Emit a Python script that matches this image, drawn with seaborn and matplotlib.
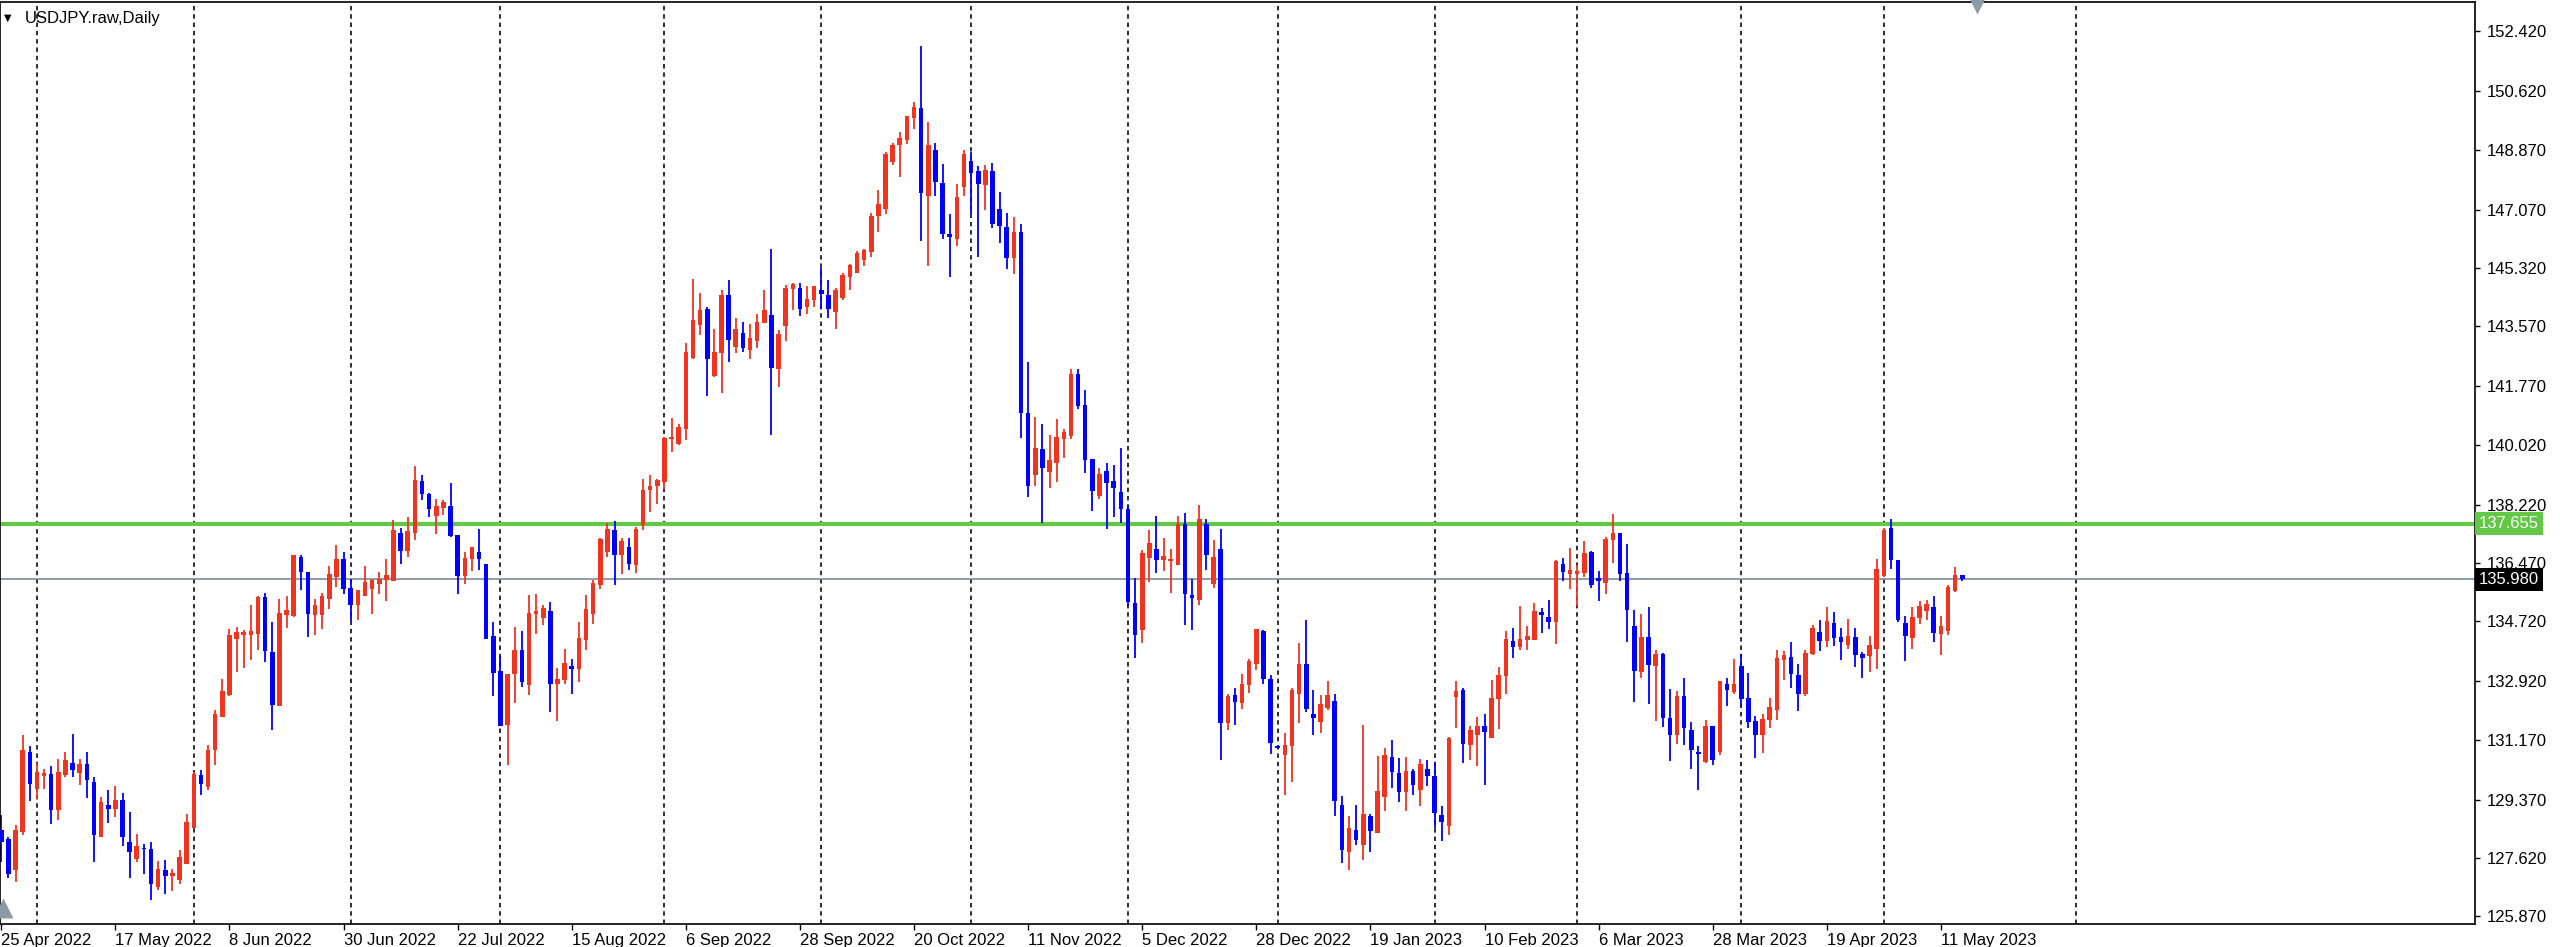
import numpy as np
import pandas as pd
import seaborn as sns
import matplotlib.pyplot as plt
from matplotlib.transforms import blended_transform_factory

# USDJPY daily candles, 25 Apr 2022 .. 16 May 2023
opens = [128.45, 128.20, 127.25, 128.40, 130.80, 129.70, 130.07, 130.15, 129.05, 130.10,
         130.47, 130.17, 130.45, 129.90, 128.25, 129.20, 129.10, 129.35, 128.10, 127.60,
         127.93, 127.90, 126.75, 127.25, 127.07, 126.95, 127.43, 128.53, 130.10, 129.75,
         130.87, 131.85, 132.50, 134.20, 134.30, 134.30, 134.35, 135.45, 133.80, 132.17,
         134.90, 134.87, 136.65, 136.20, 134.90, 134.90, 135.40, 136.05, 136.60, 135.73,
         135.22, 135.48, 135.70, 135.85, 135.97, 135.92, 137.37, 136.82, 137.37, 138.93,
         138.55, 137.88, 138.12, 138.18, 137.32, 136.07, 136.60, 136.80, 136.43, 134.28,
         133.22, 131.62, 133.15, 133.85, 132.80, 134.95, 134.83, 135.02, 132.85, 132.97,
         133.37, 133.28, 134.15, 134.95, 135.80, 136.80, 137.45, 136.70, 136.95, 136.40,
         137.60, 138.67, 138.77, 138.90, 140.19, 140.05, 140.50, 142.63, 143.62, 144.10,
         142.07, 142.77, 144.50, 142.95, 143.38, 142.87, 143.13, 143.67, 143.92, 142.28,
         143.57, 144.70, 144.72, 144.15, 144.37, 144.67, 144.50, 144.00, 144.43, 145.05,
         145.17, 145.57, 145.80, 146.87, 147.10, 148.50, 149.00, 149.17, 149.83, 150.13,
         147.48, 148.85, 147.88, 146.33, 146.20, 147.75, 148.52, 148.22, 147.80, 148.23,
         147.10, 146.56, 145.63, 146.40, 140.96, 139.10, 139.88, 139.20, 139.48, 140.18,
         140.28, 142.13, 141.21, 139.60, 138.48, 139.23, 138.93, 138.60, 138.08, 135.26,
         134.46, 136.61, 136.90, 136.55, 136.55, 136.40, 137.65, 135.50, 135.37, 137.65,
         135.85, 136.90, 131.67, 132.50, 132.27, 132.80, 133.43, 134.43, 133.00, 130.97,
         130.70, 130.97, 132.53, 133.43, 131.93, 131.69, 132.12, 132.32, 129.22, 127.80,
         128.45, 128.00, 128.89, 128.37, 129.44, 130.65, 130.17, 129.60, 130.22, 129.67,
         130.29, 130.07, 128.92, 128.59, 132.45, 132.65, 131.00, 131.32, 131.57, 131.22,
         132.39, 133.09, 134.14, 133.94, 134.17, 134.17, 134.99, 134.84, 134.69, 136.44,
         136.15, 136.15, 136.17, 136.79, 136.02, 135.87, 137.15, 137.37, 136.17, 134.57,
         133.20, 134.25, 133.39, 133.75, 131.82, 131.32, 132.49, 131.47, 130.80, 130.49,
         131.57, 130.80, 132.84, 132.59, 133.39, 132.42, 131.72, 131.32, 131.75, 132.07,
         133.57, 133.65, 133.12, 132.55, 133.75, 134.40, 134.12, 134.67, 134.25, 134.00,
         134.24, 133.75, 133.67, 133.89, 136.09, 137.52, 136.55, 134.67, 134.22, 134.82,
         135.02, 135.15, 134.35, 134.42, 135.62, 136.10]
highs = [128.90, 128.25, 128.60, 131.30, 130.97, 130.47, 130.30, 130.37, 130.60, 130.80,
         131.33, 130.60, 130.80, 130.05, 129.45, 129.67, 129.77, 129.57, 129.00, 128.33,
         128.05, 128.10, 127.53, 127.57, 127.30, 127.85, 128.93, 130.20, 130.25, 131.00,
         132.07, 133.00, 134.50, 134.55, 134.45, 135.20, 135.47, 135.57, 134.70, 135.40,
         135.47, 136.70, 136.70, 136.20, 135.40, 135.57, 136.37, 137.00, 136.80, 136.00,
         135.67, 136.37, 136.00, 136.20, 136.60, 137.75, 137.53, 137.85, 139.37, 139.10,
         138.57, 138.40, 138.35, 138.87, 137.32, 136.80, 136.95, 137.50, 136.45, 134.70,
         133.67, 133.15, 134.55, 134.43, 135.50, 135.55, 135.20, 135.30, 133.32, 133.90,
         133.58, 134.70, 135.50, 135.95, 137.23, 137.67, 137.72, 137.22, 137.23, 137.55,
         139.00, 139.10, 139.00, 140.25, 140.83, 140.65, 143.07, 144.99, 144.57, 144.15,
         143.50, 144.67, 144.95, 143.83, 143.70, 143.65, 143.93, 144.67, 145.90, 143.45,
         144.80, 144.88, 144.88, 144.77, 144.77, 145.32, 144.95, 144.73, 145.17, 145.45,
         145.82, 145.90, 146.97, 147.67, 148.80, 149.07, 149.40, 149.87, 150.30, 151.97,
         149.70, 149.07, 148.43, 146.93, 147.83, 148.85, 148.80, 148.37, 148.42, 148.46,
         147.60, 146.96, 146.86, 146.63, 142.50, 140.86, 140.63, 140.30, 140.78, 140.50,
         142.28, 142.30, 141.66, 139.60, 139.33, 139.46, 139.40, 139.93, 138.20, 136.01,
         136.86, 137.46, 137.87, 137.22, 136.90, 137.87, 137.97, 136.00, 138.20, 137.80,
         137.17, 137.50, 132.53, 132.73, 133.15, 133.60, 134.50, 134.45, 133.10, 131.00,
         131.38, 132.73, 134.08, 134.77, 132.67, 132.52, 132.92, 132.55, 129.49, 128.89,
         129.22, 131.62, 128.95, 130.67, 130.92, 131.15, 130.62, 130.65, 130.29, 130.59,
         130.55, 130.47, 129.17, 131.25, 132.92, 132.72, 131.57, 131.85, 131.95, 132.97,
         133.35, 134.42, 134.52, 135.17, 134.57, 135.27, 135.12, 135.37, 136.55, 136.62,
         136.92, 136.42, 137.14, 136.82, 136.22, 137.25, 137.94, 137.37, 137.05, 135.05,
         134.95, 135.15, 133.85, 133.77, 132.69, 132.62, 133.02, 131.69, 130.99, 131.77,
         131.57, 132.92, 133.02, 133.60, 133.75, 133.17, 131.89, 131.95, 132.42, 133.87,
         133.82, 134.09, 133.45, 133.87, 134.62, 134.75, 135.15, 134.99, 134.52, 134.79,
         134.52, 133.79, 134.27, 136.60, 137.52, 137.79, 136.57, 134.89, 135.15, 135.32,
         135.35, 135.47, 134.89, 135.82, 136.34, 136.12]
lows = [127.50, 127.03, 126.90, 128.30, 129.33, 129.40, 129.70, 128.63, 128.75, 130.05,
        130.05, 129.80, 129.43, 127.50, 128.25, 128.67, 128.85, 127.97, 127.03, 127.50,
        127.13, 126.37, 126.65, 126.55, 126.63, 126.85, 127.43, 128.53, 129.50, 129.65,
        130.40, 131.85, 132.47, 133.20, 133.33, 133.55, 133.87, 133.50, 131.47, 132.17,
        134.53, 134.85, 135.65, 134.25, 134.30, 134.50, 135.10, 135.75, 135.53, 134.73,
        134.77, 135.48, 134.95, 135.53, 135.32, 135.92, 136.45, 136.65, 137.15, 138.37,
        137.85, 137.35, 137.90, 137.25, 135.53, 135.85, 136.23, 136.27, 134.18, 132.47,
        131.57, 130.40, 132.27, 132.75, 132.50, 134.35, 134.60, 132.00, 131.73, 132.85,
        132.53, 132.90, 133.87, 134.63, 135.70, 136.65, 135.80, 136.13, 136.27, 136.17,
        137.45, 138.00, 138.25, 138.70, 139.80, 140.02, 140.17, 142.60, 143.30, 141.48,
        142.05, 141.58, 142.50, 142.77, 142.80, 142.60, 142.93, 143.67, 140.30, 141.75,
        143.13, 144.05, 143.88, 143.93, 144.15, 144.10, 143.83, 143.50, 144.35, 144.67,
        145.17, 145.37, 145.65, 146.40, 146.95, 148.40, 148.05, 149.03, 149.50, 146.13,
        145.38, 147.48, 146.18, 145.05, 145.97, 147.47, 146.93, 145.65, 147.05, 146.53,
        146.06, 145.30, 145.13, 140.23, 138.46, 138.78, 137.66, 138.73, 138.90, 139.63,
        140.18, 141.08, 139.16, 138.03, 138.40, 137.50, 137.86, 137.66, 135.18, 133.61,
        134.08, 135.91, 136.17, 136.22, 135.58, 136.40, 134.62, 134.47, 135.20, 136.27,
        135.73, 130.57, 131.45, 131.62, 132.10, 132.58, 133.27, 132.83, 130.75, 130.92,
        129.50, 129.90, 131.67, 132.00, 131.30, 131.37, 132.07, 128.87, 127.47, 127.27,
        128.02, 127.57, 127.79, 128.37, 129.02, 129.72, 129.29, 129.02, 129.50, 129.19,
        129.77, 128.52, 128.12, 128.32, 131.52, 130.47, 130.57, 130.37, 129.82, 131.22,
        131.49, 132.55, 133.62, 133.87, 133.87, 134.17, 134.37, 134.49, 134.05, 135.92,
        135.70, 135.19, 136.05, 135.72, 135.34, 135.54, 136.47, 135.92, 134.09, 132.29,
        133.02, 132.25, 131.72, 131.54, 130.52, 131.05, 131.00, 130.29, 129.67, 130.47,
        130.42, 130.72, 132.17, 132.55, 132.17, 131.52, 130.62, 130.77, 131.52, 131.77,
        132.97, 132.72, 132.02, 132.47, 133.72, 133.82, 133.94, 133.99, 133.57, 133.89,
        133.35, 133.02, 133.19, 133.29, 136.05, 136.29, 134.69, 133.52, 133.89, 134.65,
        134.77, 134.09, 133.72, 134.32, 135.59, 135.92]
closes = [128.10, 127.15, 128.45, 130.85, 129.85, 130.20, 130.17, 129.05, 130.20, 130.57,
          130.27, 130.45, 129.95, 128.30, 129.30, 129.10, 129.35, 128.25, 127.80, 127.97,
          127.88, 126.85, 127.30, 127.07, 127.17, 127.65, 128.70, 130.15, 129.85, 130.85,
          131.95, 132.63, 134.30, 134.40, 134.40, 134.43, 135.45, 133.83, 132.20, 134.97,
          135.07, 136.70, 136.20, 134.95, 135.20, 135.47, 136.15, 136.60, 135.70, 135.22,
          135.67, 135.90, 135.97, 136.00, 136.10, 137.45, 136.82, 137.43, 138.95, 138.53,
          138.10, 138.18, 138.30, 137.27, 136.07, 136.63, 136.95, 136.60, 134.18, 133.17,
          131.57, 133.15, 133.85, 132.90, 134.97, 135.02, 135.13, 132.85, 133.00, 133.47,
          133.30, 134.23, 135.08, 135.88, 137.20, 137.50, 136.70, 137.12, 136.43, 137.50,
          138.67, 138.77, 138.95, 140.23, 140.25, 140.55, 142.80, 143.77, 144.07, 142.60,
          142.80, 144.50, 143.15, 143.50, 142.93, 143.23, 143.70, 144.07, 142.33, 143.33,
          144.73, 144.83, 144.10, 144.40, 144.77, 144.53, 144.10, 144.67, 145.12, 145.40,
          145.77, 145.85, 146.87, 147.25, 148.75, 149.02, 149.23, 149.87, 150.15, 147.57,
          149.00, 147.90, 146.35, 146.25, 147.45, 148.73, 148.17, 147.83, 148.25, 146.63,
          146.58, 145.63, 146.40, 140.96, 138.78, 139.93, 139.31, 139.56, 140.26, 140.40,
          142.13, 141.18, 139.56, 138.63, 139.13, 138.88, 138.71, 138.08, 135.31, 134.31,
          136.76, 137.08, 136.55, 136.68, 136.58, 137.65, 135.53, 135.43, 137.80, 136.70,
          136.65, 131.67, 132.47, 132.30, 132.83, 133.53, 134.50, 133.00, 131.08, 130.95,
          131.00, 132.67, 133.43, 132.10, 131.83, 132.25, 132.52, 129.32, 127.85, 128.52,
          128.17, 128.95, 128.42, 129.64, 130.72, 130.20, 129.60, 130.24, 129.82, 130.44,
          130.09, 128.97, 128.69, 131.22, 132.62, 131.05, 131.47, 131.57, 131.39, 132.42,
          133.12, 134.19, 133.94, 134.19, 134.29, 135.04, 134.92, 134.70, 136.52, 136.19,
          136.27, 136.24, 136.77, 135.82, 135.94, 137.20, 137.37, 136.14, 135.07, 133.22,
          134.25, 133.40, 133.75, 131.82, 131.32, 132.49, 131.52, 130.85, 130.74, 131.57,
          130.57, 132.92, 132.65, 132.85, 132.39, 131.69, 131.32, 131.79, 132.15, 133.62,
          133.72, 133.15, 132.55, 133.77, 134.52, 134.12, 134.72, 134.22, 134.10, 134.29,
          133.72, 133.62, 134.02, 136.29, 137.45, 136.57, 134.75, 134.27, 134.85, 135.17,
          135.25, 134.37, 134.57, 135.75, 136.12, 135.98]

# trading days shown (broker skipped 26 Dec 2022)
days = pd.bdate_range("2022-04-25", "2023-05-16")
days = days[days != pd.Timestamp("2022-12-26")]

price_ticks = [152.420, 150.620, 148.870, 147.070, 145.320, 143.570, 141.770, 140.020,
               138.220, 136.470, 134.720, 132.920, 131.170, 129.370, 127.620, 125.870]
level_price = 137.655
bid_price = 135.980
symbol_title = "USDJPY.raw,Daily"

df = pd.DataFrame({"open": opens, "high": highs, "low": lows, "close": closes})
df["x"] = np.arange(len(df))
df["up"] = df["close"] >= df["open"]

sns.set_theme(style="white")
plt.rcParams["font.family"] = ["Liberation Sans", "DejaVu Sans"]

RED = "#f0341f"
BLUE = "#0000ff"
GREEN = "#62c946"

W, H = 2560, 947
fig = plt.figure(figsize=(W / 100, H / 100), dpi=100)
fig.patch.set_facecolor("white")
# plot frame in pixels: x 0..2475, y 2..924
ax = fig.add_axes([0.0, 1 - 924 / H, 2475 / W, 922 / H])
ax.set_facecolor("white")

# month-start grid lines (future part spaced by calendar days, like the terminal)
month_start = [i for i in range(1, len(days)) if days[i].month != days[i - 1].month]
next_month = days[-1] + pd.offsets.MonthBegin(1)
month_start.append(len(days) - 1 + (next_month - days[-1]).days)
for i in month_start:
    ax.axvline(i, color="black", lw=1.15, ls=(0, (2.8, 2.4)), zorder=0.5)

# levels
ax.axhline(level_price, color=GREEN, lw=3.0, zorder=1)
ax.axhline(bid_price, color="#7d8b99", lw=1.2, zorder=1)

# candles
colors = np.where(df["up"], RED, BLUE)
ax.vlines(df["x"], df["low"], df["high"], colors=colors, lw=1.3, zorder=2)
body_lo = df[["open", "close"]].min(axis=1)
body_h = (df["close"] - df["open"]).abs()
min_h = 0.05
bottom = np.where(body_h < min_h, body_lo - (min_h - body_h) / 2, body_lo)
height = np.maximum(body_h, min_h)
ax.bar(df["x"], height, bottom=bottom, width=0.64, color=colors, linewidth=0, zorder=3)

ax.set_xlim(-0.18, 346.9)
ax.set_ylim(125.64, 153.30)

# price scale on the right
ax.yaxis.tick_right()
ax.set_yticks(price_ticks)
ax.set_yticklabels([f"{p:.3f}" for p in price_ticks])
ax.tick_params(axis="y", which="both", right=True, left=False, length=3.5, width=1.0,
               pad=5, labelsize=12, colors="black")

# date scale
tick_idx = list(range(0, len(days), 16))
ax.set_xticks(tick_idx)
ax.set_xticklabels([f"{days[i].day} {days[i]:%b %Y}" for i in tick_idx])
ax.tick_params(axis="x", bottom=True, length=4.5, width=1.0, pad=2, labelsize=12,
               colors="black")
for lab in ax.get_xticklabels():
    lab.set_ha("left")

for s in ax.spines.values():
    s.set_visible(True)
    s.set_color("black")
    s.set_linewidth(1.2)

# price tags on the scale
tr = blended_transform_factory(ax.transAxes, ax.transData)
ax.text(1.0015, level_price, f"{level_price:.3f}", transform=tr, ha="left", va="center",
        fontsize=12, color="white", zorder=10,
        bbox=dict(boxstyle="square,pad=0.25", fc=GREEN, ec="none"))
ax.text(1.0015, bid_price, f"{bid_price:.3f}", transform=tr, ha="left", va="center",
        fontsize=12, color="white", zorder=10,
        bbox=dict(boxstyle="square,pad=0.25", fc="black", ec="none"))

# title in the corner
ax.text(8 / 2475, 1 - 16 / 922, "\u25BC", transform=ax.transAxes, ha="center", va="center",
        fontsize=7, color="black", family=["DejaVu Sans"])
ax.text(25 / 2475, 1 - 16 / 922, symbol_title, transform=ax.transAxes, ha="left",
        va="center", fontsize=12, color="black")

# chart-shift markers
trx = blended_transform_factory(ax.transData, ax.transAxes)
ax.plot([len(df) + 1], [1 - 4 / 922], marker="v", ms=11, color="#8c9aa8", mec="none",
        transform=trx, clip_on=False, zorder=6)
ax.plot([0.3], [16 / 922], marker="^", ms=15, color="#8c9aa8", mec="none",
        transform=trx, clip_on=True, zorder=6)

fig.savefig("out.png", dpi=100, facecolor="white")
